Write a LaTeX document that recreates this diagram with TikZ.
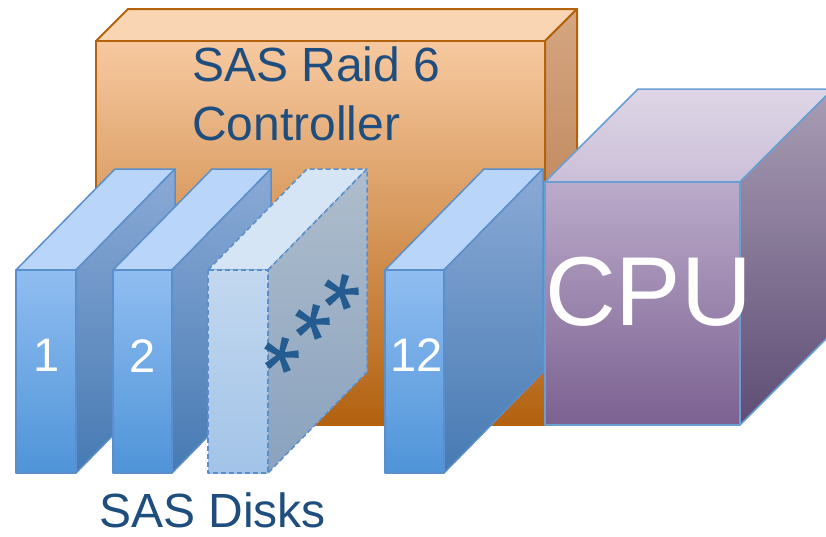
\documentclass[tikz,border=0pt]{standalone}
\usepackage{fontspec}
\setmainfont{Liberation Sans}
\usetikzlibrary{positioning}
\definecolor{textblue}{HTML}{1F4E7E}
\definecolor{starblue}{HTML}{245C92}
\definecolor{ctrledge}{HTML}{B5620C}
\definecolor{ctrltopA}{HTML}{F9D5B4}
\definecolor{ctrlA}{HTML}{F7C9A0}
\definecolor{ctrlB}{HTML}{B2610F}
\definecolor{ctrlsideA}{HTML}{D5A681}
\definecolor{ctrlsideB}{HTML}{A86A38}
\definecolor{diskedge}{HTML}{5A8FCB}
\definecolor{disktopA}{HTML}{B9D6FA}
\definecolor{diskA}{HTML}{90BDF1}
\definecolor{diskB}{HTML}{4F94D8}
\definecolor{disksideA}{HTML}{8AAAD6}
\definecolor{disksideB}{HTML}{477AB3}
\definecolor{ghosttopA}{HTML}{D6E5F5}
\definecolor{ghostA}{HTML}{C3D8EF}
\definecolor{ghostB}{HTML}{A2C3E8}
\definecolor{ghostsideA}{HTML}{AEBDCC}
\definecolor{ghostsideB}{HTML}{8AA2BE}
\definecolor{cpuedge}{HTML}{6A9FD4}
\definecolor{cputopA}{HTML}{DED6E7}
\definecolor{cputopB}{HTML}{CBBFD7}
\definecolor{cpuA}{HTML}{BBABCA}
\definecolor{cpuB}{HTML}{7B6191}
\definecolor{cpusideA}{HTML}{A99DB5}
\definecolor{cpusideB}{HTML}{5E4D75}
% front, top and side faces of a box: x, y, width, height, dx, dy, style prefix
\newcommand{\cuboid}[7]{%
  \path[#7top] (#1,#2) -- (#1+#5,#2+#6) -- (#1+#3+#5,#2+#6) -- (#1+#3,#2) -- cycle;
  \path[#7side] (#1+#3,#2) -- (#1+#3+#5,#2+#6) -- (#1+#3+#5,#2+#4+#6) -- (#1+#3,#2+#4) -- cycle;
  \path[#7front] (#1,#2) rectangle (#1+#3,#2+#4);}
\tikzset{
  face/.style={line join=round,line width=1.5pt},
  ctrltop/.style={face,draw=ctrledge,line width=2pt,fill=ctrltopA},
  ctrlside/.style={face,draw=ctrledge,line width=2pt,top color=ctrlsideA,bottom color=ctrlsideB},
  ctrlfront/.style={face,draw=ctrledge,line width=2pt,top color=ctrlA,bottom color=ctrlB},
  disktop/.style={face,draw=diskedge,fill=disktopA},
  diskside/.style={face,draw=diskedge,top color=disksideA,bottom color=disksideB},
  diskfront/.style={face,draw=diskedge,top color=diskA,bottom color=diskB},
  ghosttop/.style={face,draw=diskedge,dash pattern=on 5pt off 3pt,fill=ghosttopA},
  ghostside/.style={ghosttop,top color=ghostsideA,bottom color=ghostsideB},
  ghostfront/.style={ghosttop,top color=ghostA,bottom color=ghostB},
  cputop/.style={face,draw=cpuedge,top color=cputopA,bottom color=cputopB},
  cpuside/.style={face,draw=cpuedge,top color=cpusideA,bottom color=cpusideB},
  cpufront/.style={face,draw=cpuedge,top color=cpuA,bottom color=cpuB},
  bigtext/.style={inner sep=0pt,text=textblue,font=\fontsize{48}{59}\selectfont},
  disklabel/.style={inner sep=0pt,text=white,font=\fontsize{47}{56}\selectfont},
}
\begin{document}
\begin{tikzpicture}[x=1pt,y=-1pt]
  \fill[white] (0,0) rectangle (826,536);
  \clip (0,0) rectangle (826,536);
  % controller
  \cuboid{96}{41}{449}{384}{32}{-32}{ctrl}
  \node[bigtext,align=left,anchor=north west] (ctrl) at (192,47) {SAS Raid 6\\Controller};
  % disks
  \cuboid{16}{270}{60}{203}{99}{-101}{disk}
  \cuboid{113}{270}{59}{203}{99}{-101}{disk}
  \cuboid{208}{270}{60}{203}{99}{-101}{ghost}
  \cuboid{385}{270}{59}{203}{99}{-101}{disk}
  \node[disklabel,anchor=base west] (d1) at (33,371) {1};
  \node[disklabel,anchor=base west] (d2) at (129,372) {2};
  \node[disklabel,anchor=base west] (d12) at (390,371) {12};
  \foreach \sx/\sy in {281/355,312/322,341/292}{
    \begin{scope}[shift={(\sx,\sy)}]
      \foreach \a in {-75,-3,-147,69,141}
        \fill[starblue] (\a-90:2.5) -- (\a-12:18) -- (\a+12:18) -- (\a+90:2.5) -- cycle;
      \fill[starblue] (0,0) circle (3.8);
    \end{scope}}
  \node[bigtext,anchor=base west] (disks) at (99,527) {SAS Disks};
  % cpu
  \cuboid{545}{182}{195}{243}{93}{-93}{cpu}
  \node[inner sep=0pt,text=white,font=\fontsize{98}{110}\selectfont,anchor=base west] (cpu) at (545,325) {CPU};
\end{tikzpicture}
\end{document}
